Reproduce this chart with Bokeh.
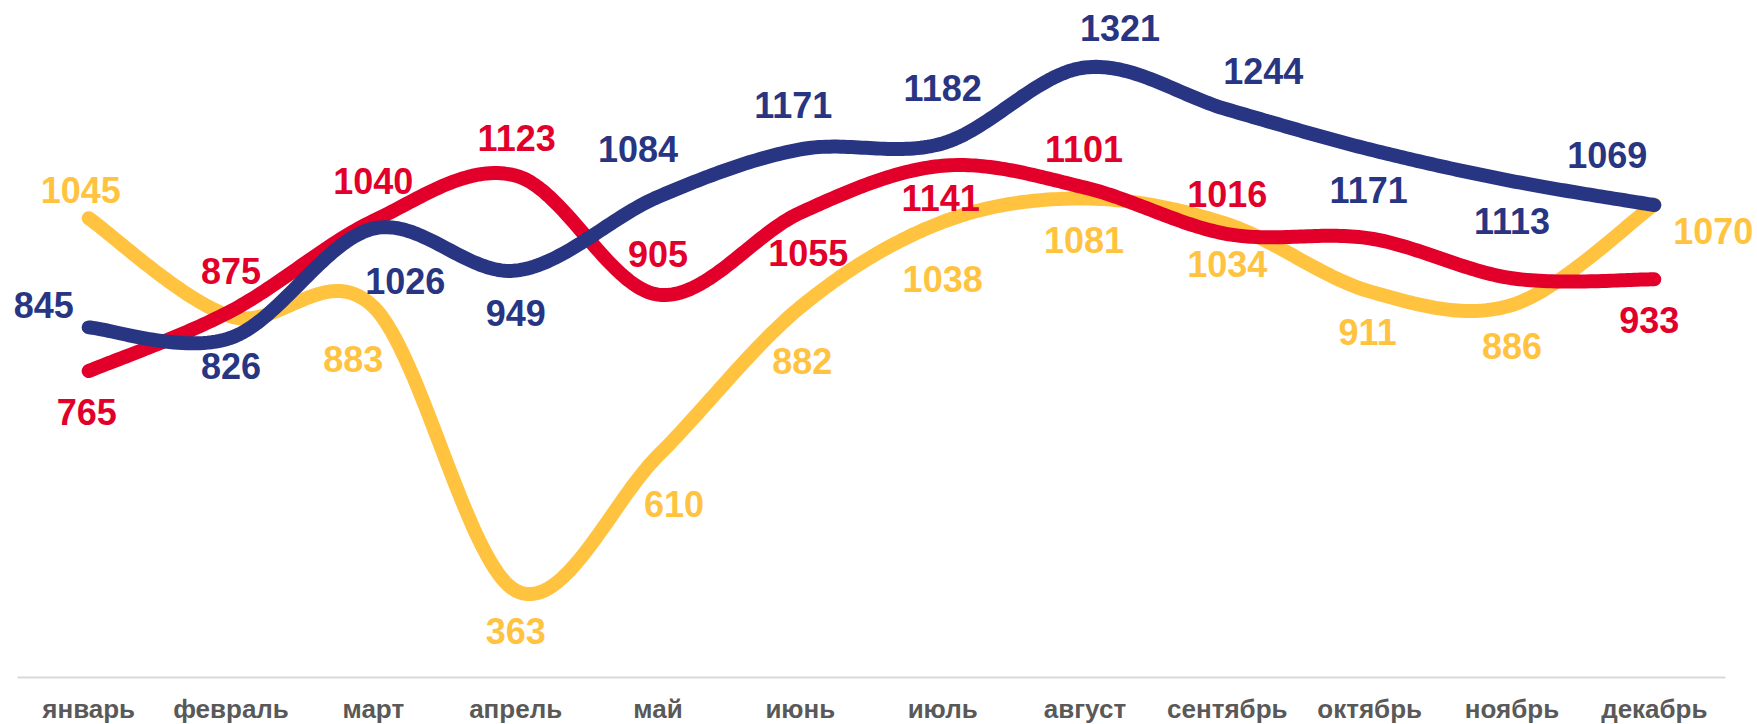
import numpy as np
from bokeh.plotting import figure
from bokeh.models import Range1d, ColumnDataSource, LabelSet
from bokeh.core.properties import value
from bokeh.embed import file_html
from bokeh.resources import INLINE

# ---------------- data ----------------
months = ["январь", "февраль", "март", "апрель", "май", "июнь",
          "июль", "август", "сентябрь", "октябрь", "ноябрь", "декабрь"]

yellow_vals = [1045, 865, 883, 363, 610, 882, 1038, 1081, 1034, 911, 886, 1070]
red_vals = [765, 875, 1040, 1123, 905, 1055, 1141, 1101, 1016, 1008, 935, 933]
navy_vals = [845, 826, 1026, 949, 1084, 1171, 1182, 1321, 1244, 1171, 1113, 1069]

# which points carry a visible value label in the picture
yellow_shown = [1, 0, 1, 1, 1, 1, 1, 1, 1, 1, 1, 1]
red_shown = [1, 1, 1, 1, 1, 1, 1, 1, 1, 0, 0, 1]
navy_shown = [1] * 12

axis_floor = 203.8   # value axis minimum (where the category axis sits)

# ---------------- layout / style ----------------
YELLOW = "#FFC340"
RED = "#E2002B"
NAVY = "#283583"
GREY = "#595959"
RULE = "#D9D9D9"
FONT = value("Liberation Sans")

# label nudges in screen pixels (dx right, dy up) relative to the point
yellow_nudge = [(-8, 28), (0, 0), (-20, -52), (0, -40), (16, -48), (2, -54),
                (0, -57), (-1, -41), (0, -40), (-2, -41), (0, -41), (59, -26)]
red_nudge = [(-2, -41), (0, 40), (0, 40), (1, 38), (0, 41), (8, -40),
             (-2, -32), (-1, 39), (0, 40), (0, 0), (0, 0), (-5, -41)]
navy_nudge = [(-45, 22), (0, -28), (32, -52), (0, -42), (-20, 48), (-7, 44),
              (0, 55), (35, 39), (36, 39), (-1, -41), (0, -40), (-47, 50)]


def smooth(xs, ys, n=40):
    """Catmull-Rom style smoothing (Bezier segments) through the points."""
    P = np.column_stack([np.asarray(xs, float), np.asarray(ys, float)])
    m = len(P)
    out = []
    t = np.linspace(0, 1, n)[:, None]
    for i in range(m - 1):
        p0 = P[i - 1] if i > 0 else P[i]
        p1 = P[i]
        p2 = P[i + 1]
        p3 = P[i + 2] if i + 2 < m else P[i + 1]
        c1 = p1 + (p2 - p0) / 6.0
        c2 = p2 - (p3 - p1) / 6.0
        seg = ((1 - t) ** 3) * p1 + 3 * ((1 - t) ** 2) * t * c1 + 3 * (1 - t) * t ** 2 * c2 + t ** 3 * p2
        if i > 0:
            seg = seg[1:]
        out.append(seg)
    pts = np.vstack(out)
    return pts[:, 0], pts[:, 1]


n = len(months)
x_idx = list(range(n))

p = figure(width=1756, height=723, output_backend="svg", toolbar_location=None,
           x_range=Range1d(-0.6195, 11.718),
           y_range=Range1d(119.5, 1443.7),
           min_border_left=0, min_border_right=0, min_border_top=0, min_border_bottom=0)
p.outline_line_color = None
p.background_fill_color = "white"
p.border_fill_color = "white"
p.xgrid.visible = False
p.ygrid.visible = False
p.xaxis.visible = False
p.yaxis.visible = False

# category axis rule
p.segment(x0=[-0.5], x1=[n - 0.5], y0=[axis_floor], y1=[axis_floor],
          line_color=RULE, line_width=2)

# category labels
msrc = ColumnDataSource(dict(x=x_idx, y=[p.y_range.start] * n, text=months))
p.add_layout(LabelSet(x="x", y="y", text="text", source=msrc,
                      y_offset=6, text_align="center", text_baseline="alphabetic",
                      text_font=FONT, text_font_style="bold",
                      text_font_size="26px", text_color=GREY))

series = [
    (yellow_vals, yellow_shown, yellow_nudge, YELLOW),
    (red_vals, red_shown, red_nudge, RED),
    (navy_vals, navy_shown, navy_nudge, NAVY),
]

for vals, shown, nudge, col in series:
    sx, sy = smooth(x_idx, vals)
    p.line(sx, sy, line_color=col, line_width=14, line_cap="round", line_join="round")

for vals, shown, nudge, col in series:
    keep = [i for i in x_idx if shown[i]]
    src = ColumnDataSource(dict(
        x=[x_idx[i] for i in keep],
        y=[vals[i] for i in keep],
        text=[str(vals[i]) for i in keep],
        dx=[nudge[i][0] for i in keep],
        dy=[nudge[i][1] for i in keep],
    ))
    p.add_layout(LabelSet(x="x", y="y", text="text", source=src,
                          x_offset="dx", y_offset="dy",
                          text_align="center", text_baseline="middle",
                          text_font=FONT, text_font_style="bold",
                          text_font_size="36px", text_color=col))

open("out.html", "w").write(file_html(p, INLINE))
